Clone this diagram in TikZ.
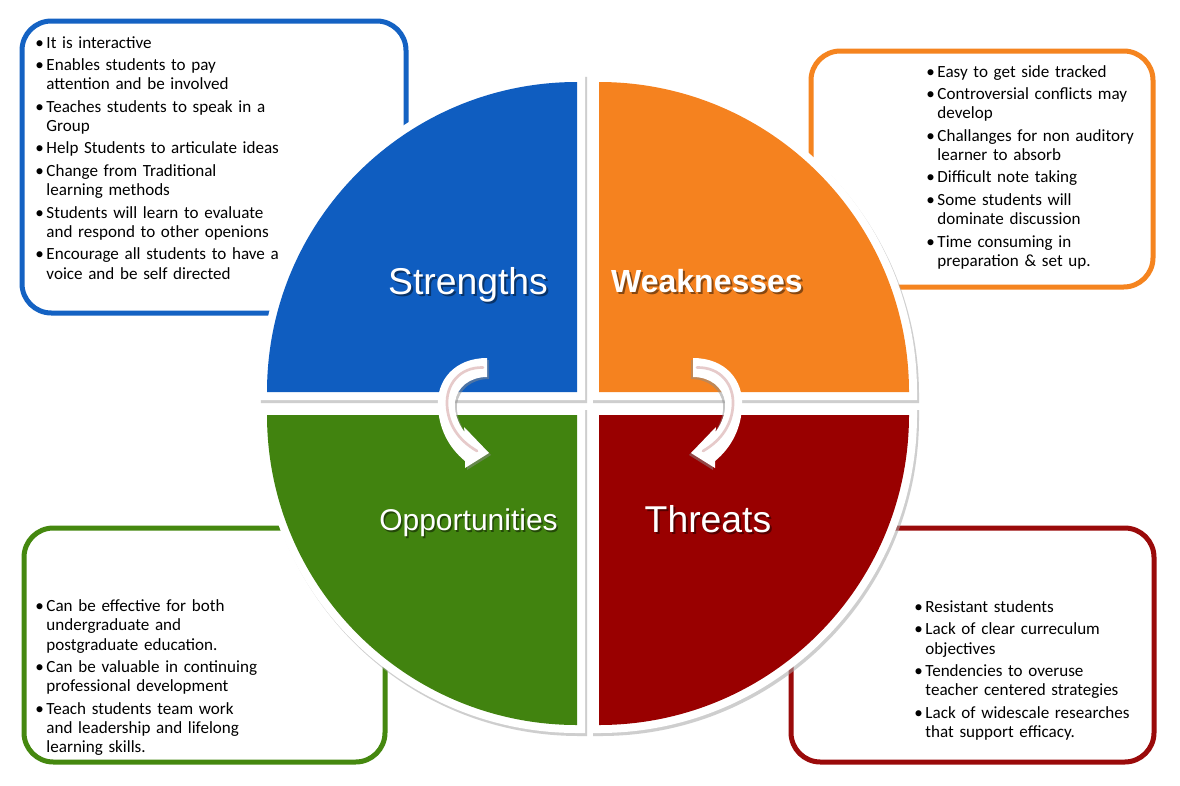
\documentclass[tikz,border=0pt]{standalone}
\usepackage{fontspec}
\setmainfont{Carlito}
\newfontfamily\titlefont{Liberation Sans}
\definecolor{qblue}{HTML}{0F5DC0}
\definecolor{qorange}{HTML}{F5821F}
\definecolor{qgreen}{HTML}{41830F}
\definecolor{qred}{HTML}{990000}
\definecolor{bblue}{HTML}{1462C3}
\definecolor{borange}{HTML}{F5841F}
\definecolor{bgreen}{HTML}{45880F}
\definecolor{bred}{HTML}{9A0A0A}
\definecolor{apink}{HTML}{E6CACA}
\newcommand{\bfirst}{\hangindent=8.4pt\hangafter=1\makebox[8.4pt][l]{\textbullet}}
\newcommand{\bitem}{\par\noindent\bfirst}
\newcommand{\quadrant}[4]{%
  \path[shift={(2,3)}, fill=black!35, draw=black!35, line width=12pt, line join=miter, opacity=.55]
    #2 -- +(#3:310) arc[start angle=#3, end angle=#4, radius=310] -- cycle;
  \path[fill=white, draw=white, line width=12pt, line join=miter]
    #2 -- +(#3:310) arc[start angle=#3, end angle=#4, radius=310] -- cycle;
  \path[fill=#1]
    #2 -- +(#3:310) arc[start angle=#3, end angle=#4, radius=310] -- cycle;
}
\tikzset{
  swotbox/.style={line width=3.75pt, rounded corners=22pt, fill=white},
  listtext/.style={anchor=base west, inner sep=0pt, text width=300pt, align=left,
    font=\fontsize{12.8pt}{14.5pt}\selectfont},
  swottitle/.style={anchor=base, text=white, inner sep=0pt},
  titleshadow/.style={anchor=base, text=black, opacity=.45, inner sep=0pt},
  curvarrow/.pic={
    \fill[black!45, opacity=.5, shift={(2,2)}]
      (487,358) .. controls (455,358) and (436,380) .. (438,407)
      .. controls (439,428) and (448,447) .. (465,461) -- (465,468) -- (489,453) -- (464,427) -- (464.5,432)
      .. controls (457,422) and (454,410) .. (455,402)
      .. controls (457,387) and (470,377) .. (487,377) -- cycle;
    \fill[white]
      (487,358) .. controls (455,358) and (436,380) .. (438,407)
      .. controls (439,428) and (448,447) .. (465,461) -- (465,468) -- (489,453) -- (464,427) -- (464.5,432)
      .. controls (457,422) and (454,410) .. (455,402)
      .. controls (457,387) and (470,377) .. (487,377) -- cycle;
    \draw[apink, line width=2pt, line cap=round]
      (483,367.5) .. controls (459,367) and (446,385) .. (447,405)
      .. controls (448,424) and (458,440) .. (477,451);
  }
}
\begin{document}
\begin{tikzpicture}[x=0.75pt,y=-0.75pt]
\useasboundingbox (0,0) rectangle (1180,785);
\fill[white] (0,0) rectangle (1180,785);

% boxes
\draw[swotbox, draw=bblue] (22,21) rectangle (406,313);
\draw[swotbox, draw=borange] (811,51) rectangle (1153,287);
\draw[swotbox, draw=bgreen] (24,528) rectangle (385,762);
\draw[swotbox, draw=bred] (791,528) rectangle (1154,762);

% texts
\node[listtext] (stxt) at (35,48) {\setlength\parskip{2.3pt}\bfirst It is interactive
\bitem Enables students to pay\newline attention and be involved
\bitem Teaches students to speak in a\newline Group
\bitem Help Students to articulate ideas
\bitem Change from Traditional\newline learning methods
\bitem Students will learn to evaluate\newline and respond to other openions
\bitem Encourage all students to have a\newline voice and be self directed\par};

\node[listtext] (wtxt) at (926,77) {\setlength\parskip{2.3pt}\bfirst Easy to get side tracked
\bitem Controversial conflicts may\newline develop
\bitem Challanges for non auditory\newline learner to absorb
\bitem Difficult note taking
\bitem Some students will\newline dominate discussion
\bitem Time consuming in\newline preparation \& set up.\par};

\node[listtext] (otxt) at (35,611.5) {\setlength\parskip{2.3pt}\bfirst Can be effective for both\newline undergraduate and\newline postgraduate education.
\bitem Can be valuable in continuing\newline professional development
\bitem Teach students team work\newline and leadership and lifelong\newline learning skills.\par};

\node[listtext] (ttxt) at (914,612.5) {\setlength\parskip{2.3pt}\bfirst Resistant students
\bitem Lack of clear curreculum\newline objectives
\bitem Tendencies to overuse\newline teacher centered strategies
\bitem Lack of widescale researches\newline that support efficacy.\par};

% quadrants
\quadrant{qblue}{(577,392)}{180}{270}
\quadrant{qorange}{(599,392)}{270}{360}
\quadrant{qgreen}{(577,415)}{90}{180}
\quadrant{qred}{(599,415)}{0}{90}

% titles
\node[titleshadow, font=\titlefont\fontsize{28pt}{30pt}\selectfont] (sshd) at (470,296) {Strengths};
\node[swottitle, font=\titlefont\fontsize{28pt}{30pt}\selectfont] (stitle) at (468,294) {Strengths};
\node[titleshadow, font=\titlefont\bfseries\fontsize{24pt}{26pt}\selectfont] (wshd) at (709,294) {Weaknesses};
\node[swottitle, font=\titlefont\bfseries\fontsize{24pt}{26pt}\selectfont] (wtitle) at (707,292) {Weaknesses};
\node[titleshadow, font=\titlefont\fontsize{22.5pt}{24pt}\selectfont] (oshd) at (470,532.5) {Opportunities};
\node[swottitle, font=\titlefont\fontsize{22.5pt}{24pt}\selectfont] (otitle) at (468.5,530.5) {Opportunities};
\node[titleshadow, font=\titlefont\fontsize{28pt}{30pt}\selectfont] (tshd) at (710,534.5) {Threats};
\node[swottitle, font=\titlefont\fontsize{28pt}{30pt}\selectfont] (ttitle) at (708,532.5) {Threats};

% arrows
\pic (arrL) at (0,0) {curvarrow};
\pic[xscale=-1] (arrR) at (1180,0) {curvarrow};
\end{tikzpicture}
\end{document}
